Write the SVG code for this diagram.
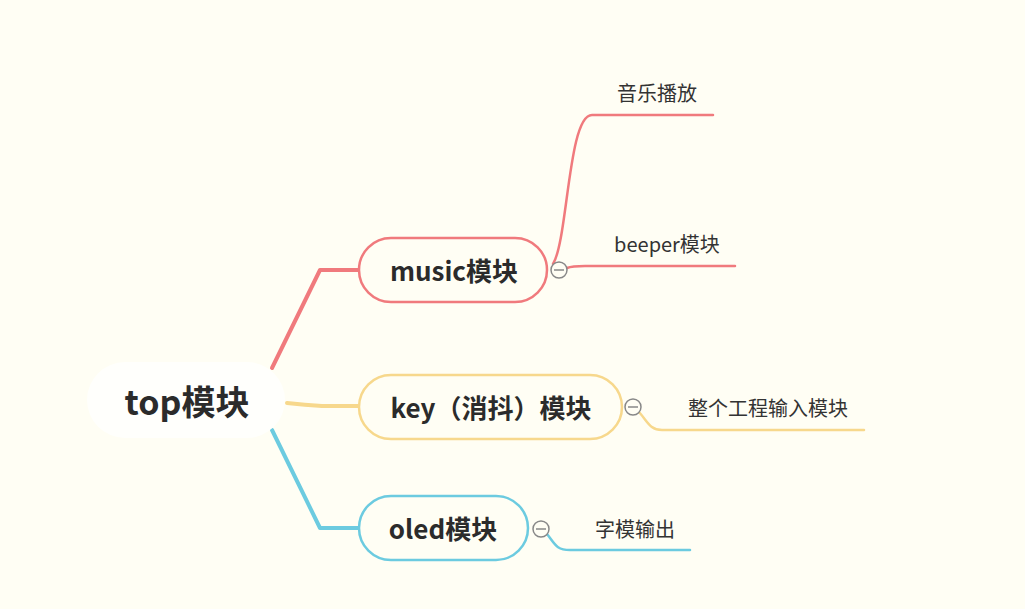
<svg xmlns="http://www.w3.org/2000/svg" width="1025" height="609" viewBox="0 0 1025 609">
<style>
.bg{fill:#fffef4}
.t{font-family:"Noto Sans CJK SC","Noto Sans",sans-serif;fill:#2b2b2b}
.main{font-size:26px;font-weight:bold;text-anchor:middle}
.root{font-size:34px;font-weight:bold;text-anchor:middle}
.sub{font-size:20px;text-anchor:middle;fill:#333}
.c{fill:none;stroke-linecap:round;stroke-linejoin:round}
.red{stroke:#f07a7d}
.yel{stroke:#f7d88c}
.blu{stroke:#6ccbe0}
.tog{fill:#fffef4;stroke:#888;stroke-width:1.5}
</style>
<rect class="bg" x="0" y="0" width="1025" height="609"/>
<g id="connectors">
<path class="c red" stroke-width="4" d="M272,368 L320,270 L360,270"/>
<path class="c yel" stroke-width="4" d="M287,403 Q305,405 322,406 L360,406"/>
<path class="c blu" stroke-width="4" d="M272,430 L320,528 L360,528"/>
<path class="c red" stroke-width="2.5" d="M553,264 C568,240 568,115 592,115 L713,115"/>
<path class="c red" stroke-width="2.5" d="M567,268 C572,266 578,266 585,266 L735,266"/>
<path class="c yel" stroke-width="2.5" d="M639,412 C648,422 650,430 662,430 L864,430"/>
<path class="c blu" stroke-width="2.5" d="M547,534 C555,544 556,550 570,550 L690,550"/>
</g>
<g id="root">
<rect x="87" y="362" width="198" height="76" rx="38" fill="#fffffc"/>
<text class="t root" x="187" y="415">top模块</text>
</g>
<g id="music">
<rect x="359" y="238" width="188" height="64" rx="32" fill="#fffef4" stroke="#f07a7d" stroke-width="2.5"/>
<text class="t main" x="454" y="281">music模块</text>
<circle class="tog" cx="559" cy="270" r="8"/>
<line x1="554" y1="270" x2="564" y2="270" stroke="#888" stroke-width="1.5"/>
</g>
<g id="key">
<rect x="359" y="375" width="263" height="64" rx="32" fill="#fffef4" stroke="#f7d88c" stroke-width="2.5"/>
<text class="t main" x="491" y="418">key（消抖）模块</text>
<circle class="tog" cx="633" cy="407" r="8"/>
<line x1="628" y1="407" x2="638" y2="407" stroke="#888" stroke-width="1.5"/>
</g>
<g id="oled">
<rect x="359" y="496" width="169" height="64" rx="32" fill="#fffef4" stroke="#6ccbe0" stroke-width="2.5"/>
<text class="t main" x="443" y="539">oled模块</text>
<circle class="tog" cx="541" cy="529" r="8"/>
<line x1="536" y1="529" x2="546" y2="529" stroke="#888" stroke-width="1.5"/>
</g>
<g id="yinyue">
<text class="t sub" x="657" y="101">音乐播放</text>
</g>
<g id="beeper">
<text class="t sub" x="667" y="252">beeper模块</text>
</g>
<g id="input">
<text class="t sub" x="768" y="416">整个工程输入模块</text>
</g>
<g id="zimo">
<text class="t sub" x="635" y="537">字模输出</text>
</g>
</svg>
